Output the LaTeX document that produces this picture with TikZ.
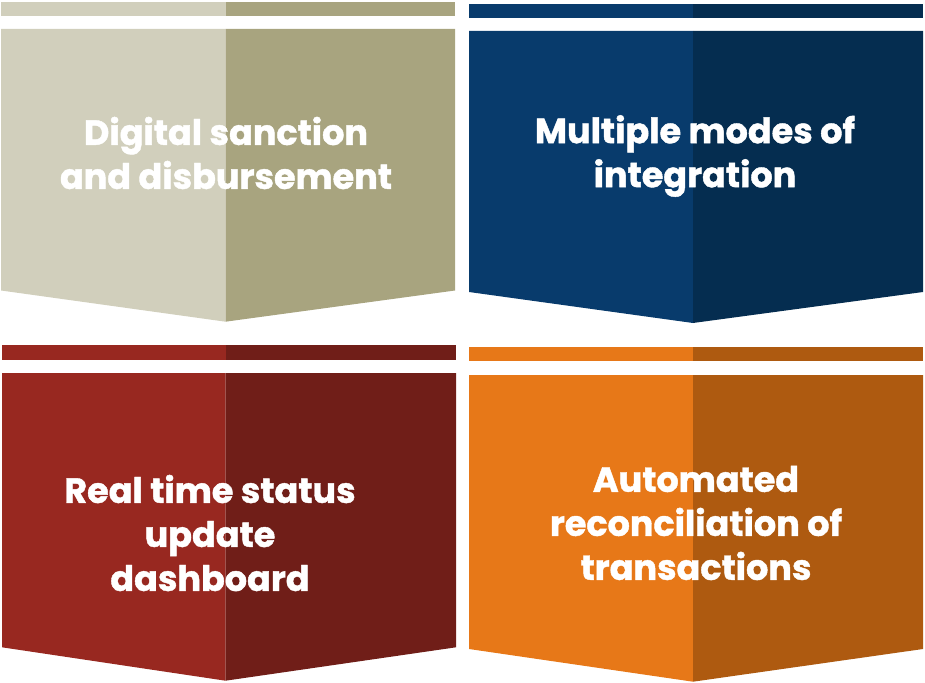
\documentclass[tikz,border=0pt]{standalone}
\usepackage{fontspec}
\setmainfont{Poppins}[UprightFont=* Bold, RawFeature={embolden=1.2}]
\definecolor{begL}{RGB}{209,207,188}
\definecolor{begD}{RGB}{168,164,127}
\definecolor{bluL}{RGB}{8,59,108}
\definecolor{bluD}{RGB}{5,45,80}
\definecolor{redL}{RGB}{152,40,32}
\definecolor{redD}{RGB}{112,30,24}
\definecolor{orgL}{RGB}{231,120,24}
\definecolor{orgD}{RGB}{174,90,16}
\tikzset{
  lbl/.style={text=white, align=center, font=\fontsize{35}{44}\selectfont, inner sep=0pt},
}
% #1 left x, #2 right x, #3 split x, #4 bar top, #5 bar bottom, #6 body top, #7 side bottom, #8 tip y, #9 colour prefix
\newcommand{\panel}[9]{%
  \fill[#9L] (#1,#4) rectangle (#3,#5);
  \fill[#9D] (#3,#4) rectangle (#2,#5);
  \fill[#9L] (#1,#6) -- (#3,#6) -- (#3,#8) -- (#1,#7) -- cycle;
  \fill[#9D] (#3,#6) -- (#2,#6) -- (#2,#7) -- (#3,#8) -- cycle;
}
\begin{document}
\begin{tikzpicture}[x=1pt,y=-1pt]
\useasboundingbox (0,0) rectangle (925,682);
\panel{1}{455}{225.5}{2}{16}{29}{290.5}{321.7}{beg}
\panel{469}{923}{693}{4}{18}{31}{292}{323}{blu}
\panel{2}{456}{225.5}{345}{360}{373}{647.3}{680.7}{red}
\panel{469}{923}{693}{346.7}{360.7}{375}{649}{681.7}{org}
\node[lbl] (t1) at (226,153) {Digital sanction\\and disbursement};
\node[lbl] (t2) at (695,156) {Multiple modes of\\integration};
\node[lbl] (t3) at (210,533) {Real time status\\update\\dashboard};
\node[lbl] (t4) at (696,523) {Automated\\reconciliation of\\transactions};
\end{tikzpicture}
\end{document}
